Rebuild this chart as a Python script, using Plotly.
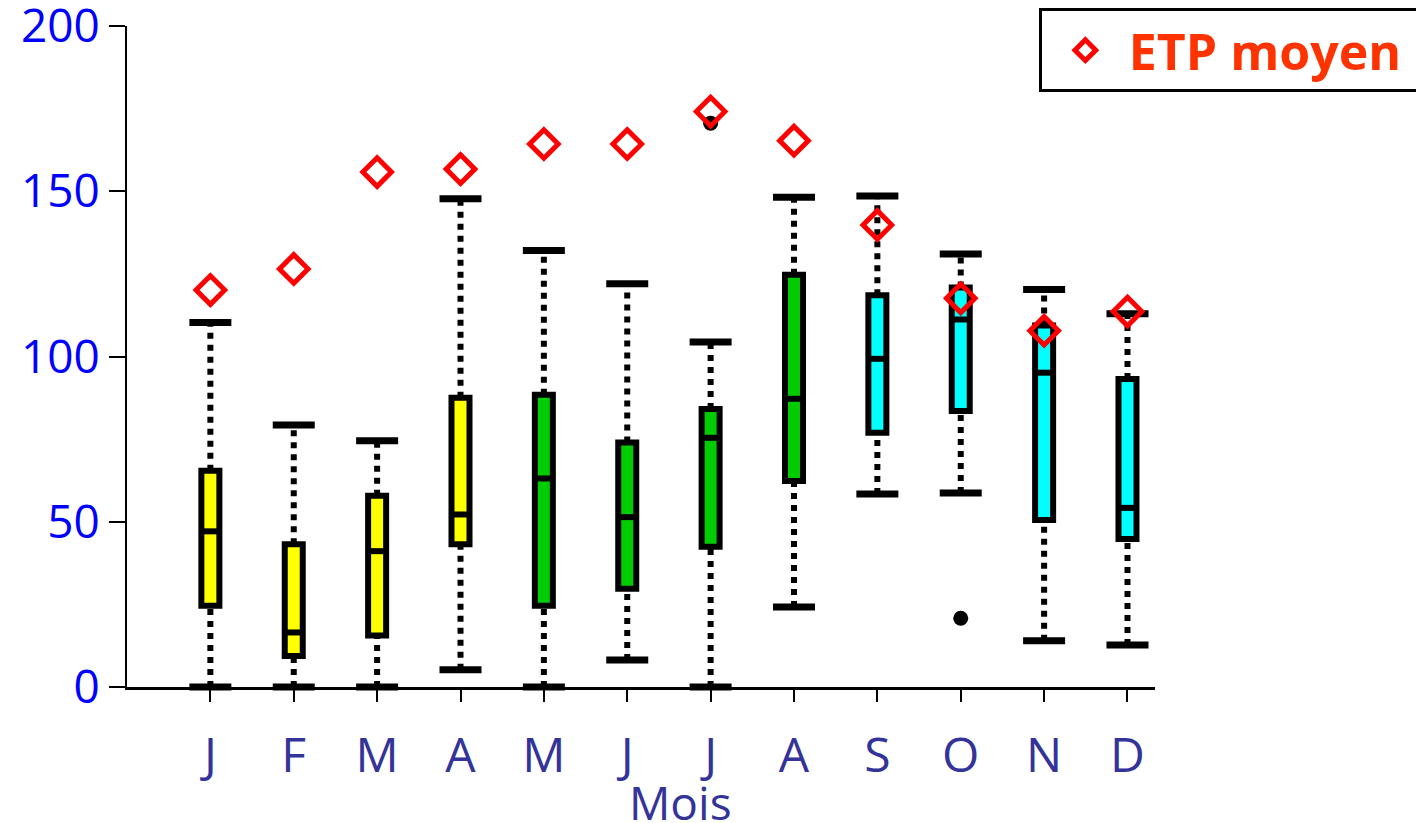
import plotly.graph_objects as go

# ---- data ----
months = ["J", "F", "M", "A", "M", "J", "J", "A", "S", "O", "N", "D"]
lower_fence = [0.0, 0.0, 0.0, 5.2, 0.0, 8.2, 0.0, 24.2, 58.4, 58.7, 14.0, 12.7]
q1 = [24.6, 9.4, 15.6, 43.2, 24.6, 29.7, 42.4, 62.3, 76.9, 83.5, 50.5, 44.8]
median = [47.1, 16.5, 41.1, 52.2, 63.1, 51.4, 75.4, 87.2, 99.3, 111.2, 95.1, 54.2]
q3 = [65.4, 43.2, 57.9, 87.5, 88.4, 74.0, 84.1, 124.7, 118.5, 120.9, 109.4, 93.2]
upper_fence = [110.3, 79.3, 74.5, 147.7, 132.1, 122.0, 104.4, 148.2, 148.6, 131.0, 120.3, 112.9]
etp_mean = [120.1, 126.5, 155.8, 156.7, 164.3, 164.3, 174.1, 165.3, 139.8, 117.6, 107.8, 113.6]
outlier_month_index = [7, 10]          # 1-based month index
outlier_value = [170.6, 20.8]
season = ["winter"] * 4 + ["summer"] * 4 + ["autumn"] * 4
y_ticks = [0, 50, 100, 150, 200]

season_color = {"winter": "#FFFF00", "summer": "#00CC00", "autumn": "#00FFFF"}
pos = list(range(1, len(months) + 1))

FONT = "Open Sans"

fig = go.Figure()

# dotted whiskers (from fence to box edge)
wx, wy = [], []
for p, lo, a, b, hi in zip(pos, lower_fence, q1, q3, upper_fence):
    wx += [p, p, None, p, p, None]
    wy += [lo, a, None, b, hi, None]
fig.add_trace(go.Scatter(
    x=wx, y=wy, mode="lines", showlegend=False, hoverinfo="skip",
    line=dict(color="black", width=6, dash="6px,6px"), cliponaxis=False))

# whisker caps
fig.add_trace(go.Scatter(
    x=pos + pos, y=lower_fence + upper_fence, mode="markers", showlegend=False,
    marker=dict(symbol="line-ew", size=30, color="black",
                line=dict(color="black", width=7)),
    cliponaxis=False))

# boxes
fig.add_trace(go.Bar(
    x=pos, y=[b - a for a, b in zip(q1, q3)], base=q1, width=0.216,
    showlegend=False,
    marker=dict(color=[season_color[s] for s in season],
                line=dict(color="black", width=6))))

# medians
fig.add_trace(go.Scatter(
    x=pos, y=median, mode="markers", showlegend=False,
    marker=dict(symbol="line-ew", size=14, color="black",
                line=dict(color="black", width=6))))

# outliers
fig.add_trace(go.Scatter(
    x=outlier_month_index, y=outlier_value, mode="markers", showlegend=False,
    marker=dict(symbol="circle", size=15, color="black")))

# mean ETP
fig.add_trace(go.Scatter(
    x=pos, y=etp_mean, mode="markers", name="ETP moyen\u00a0",
    marker=dict(symbol="diamond-open", size=22, color="#FF0000",
                line=dict(color="#FF0000", width=5)),
    cliponaxis=False))

# page body has an 8px margin: the figure is sized/offset to compensate
fig.update_layout(
    width=1416, height=815,
    margin=dict(l=119, r=269, t=18, b=136, autoexpand=False),
    paper_bgcolor="white", plot_bgcolor="white",
    font=dict(family=FONT),
    barmode="overlay",
    showlegend=True,
    legend=dict(x=0.887, y=1.027, xanchor="left", yanchor="top",
                bordercolor="black", borderwidth=3, bgcolor="white",
                itemwidth=77,
                font=dict(family=FONT, size=50, color="#FF3300", weight="bold")),
    xaxis=dict(range=[0, 12.33], tickmode="array", tickvals=pos, ticktext=months,
               showline=True, linewidth=3, linecolor="black",
               ticks="outside", ticklen=12, tickwidth=2, tickcolor="black",
               showgrid=False, zeroline=False, ticklabelstandoff=12,
               automargin=False,
               tickfont=dict(family=FONT, size=48, color="#333399")),
    yaxis=dict(range=[0, 200], tickmode="array", tickvals=y_ticks,
               showline=True, linewidth=2, linecolor="black",
               ticks="outside", ticklen=16, tickwidth=2, tickcolor="black",
               showgrid=False, zeroline=False, automargin=False,
               ticklabeloverflow="allow",
               tickfont=dict(family=FONT, size=46, color="#0000FF")),
    annotations=[dict(text="Mois", xref="paper", yref="paper", x=0.538, y=-0.174,
                      xanchor="center", yanchor="middle", showarrow=False,
                      font=dict(family=FONT, size=46, color="#333399"))],
)

fig.write_html("out.html")
